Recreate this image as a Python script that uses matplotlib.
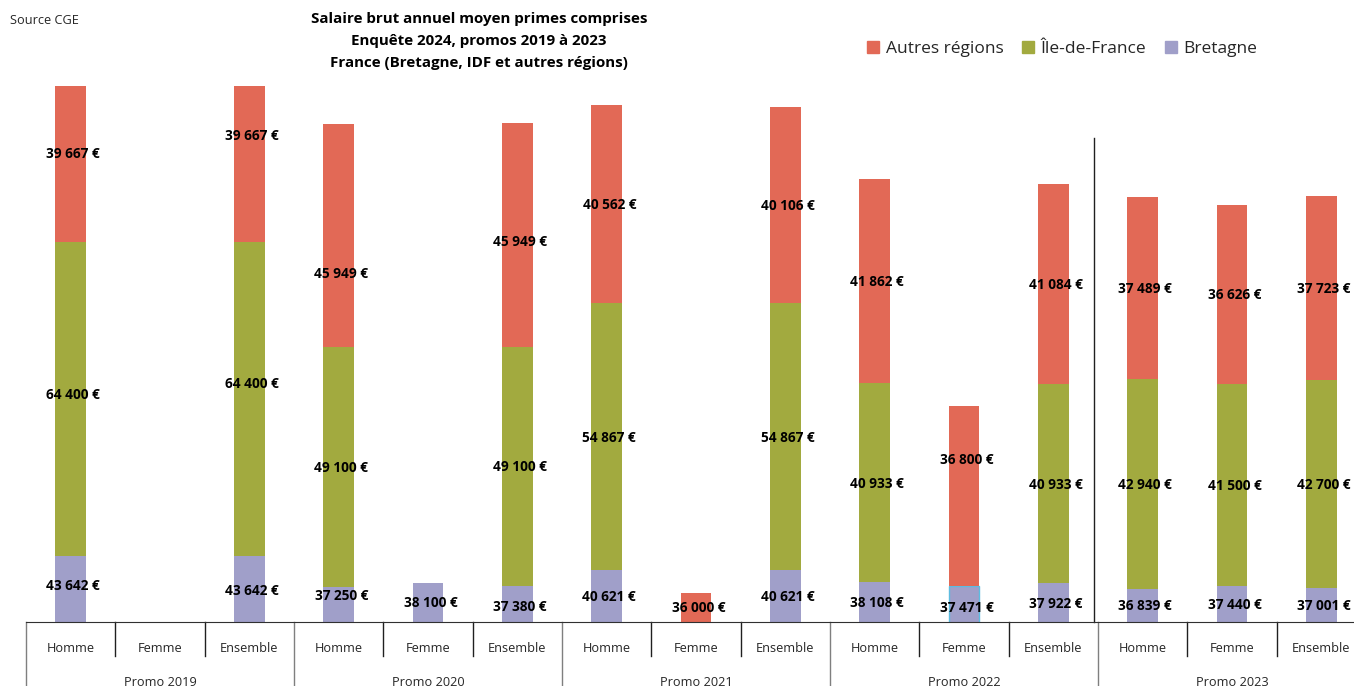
import numpy as np
import matplotlib
matplotlib.use("Agg")
import matplotlib.pyplot as plt
from matplotlib.lines import Line2D
import matplotlib.transforms as mtransforms

# ---------------- data ----------------
genders = ["Homme", "Femme", "Ensemble"]
promos = ["Promo 2019", "Promo 2020", "Promo 2021", "Promo 2022", "Promo 2023"]
categories = genders * len(promos)

bretagne = [43642, np.nan, 43642, 37250, 38100, 37380, 40621, np.nan, 40621,
            38108, 37471, 37922, 36839, 37440, 37001]
idf = [64400, np.nan, 64400, 49100, np.nan, 49100, 54867, np.nan, 54867,
       40933, np.nan, 40933, 42940, 41500, 42700]
autres = [39667, np.nan, 39667, 45949, np.nan, 45949, 40562, 36000, 40106,
          41862, 36800, 41084, 37489, 36626, 37723]

series_names = ["Bretagne", "Île-de-France", "Autres régions"]
series_vals = [bretagne, idf, autres]

# ---------------- style ----------------
colors = {"Bretagne": "#A09FC9", "Île-de-France": "#A2AA3F", "Autres régions": "#E26956"}
YMIN, YMAX = 30000, 140000
FONT = "Open Sans"
plt.rcParams["font.family"] = [FONT, "DejaVu Sans"]

# manual label nudges (pixels, positive = downward), as in the original layout
label_nudge = {
    ("Autres régions", 0): -11, ("Île-de-France", 0): -5, ("Bretagne", 0): -4,
    ("Autres régions", 2): -29, ("Île-de-France", 2): -16, ("Bretagne", 2): 1,
    ("Autres régions", 3): 38, ("Bretagne", 3): -9,
    ("Autres régions", 5): 6, ("Bretagne", 5): 2,
    ("Autres régions", 10): -37, ("Bretagne", 10): 3,
}

W, H = 1354, 686
fig = plt.figure(figsize=(W / 100, H / 100), dpi=100)
ax_left, ax_right = 26, 1366
ax_top, ax_bot = 86, 622
ax = fig.add_axes([ax_left / W, (H - ax_bot) / H, (ax_right - ax_left) / W, (ax_bot - ax_top) / H])

x = np.arange(len(categories))
bottom = np.zeros(len(categories))
bar_w = 0.34
for name, vals in zip(series_names, series_vals):
    v = np.array(vals, dtype=float)
    vz = np.nan_to_num(v)
    edge = ["none"] * len(v)
    if name == "Bretagne":
        edge[10] = "#5DBCE0"
    ax.bar(x, vz, bar_w, bottom=bottom, color=colors[name], edgecolor=edge, linewidth=1.0)
    for i, val in enumerate(v):
        if np.isnan(val):
            continue
        lo = max(bottom[i], YMIN)
        hi = min(bottom[i] + val, YMAX)
        yc = (lo + hi) / 2
        txt = f"{int(val):,}".replace(",", " ") + " €"
        dy = label_nudge.get((name, i), 0) + 1
        ax.annotate(txt, (x[i] + 0.03, yc), xytext=(0, -dy), textcoords="offset pixels",
                    ha="center", va="center", fontsize=9.8, fontweight="bold", color="black")
    bottom = bottom + vz

ax.set_xlim(-0.5, len(categories) - 0.5)
ax.set_ylim(YMIN, YMAX)
for s in ["top", "right", "left"]:
    ax.spines[s].set_visible(False)
ax.spines["bottom"].set_color("#303030")
ax.set_yticks([])
ax.set_xticks([])

# separator line before Promo 2023
trans = mtransforms.blended_transform_factory(ax.transData, ax.transAxes)
ax.plot([11.455, 11.455], [0, (ax_bot - 138) / (ax_bot - ax_top)], color="#202020",
        lw=1.0, transform=trans, clip_on=False)

# two-level category axis
ah = ax_bot - ax_top
for k in range(len(categories) + 1):
    xs = k - 0.5
    if k % 3 == 0:
        ax.plot([xs, xs], [0, -(H - ax_bot) / ah], color="#7F7F7F", lw=1.0,
                transform=trans, clip_on=False)
    else:
        ax.plot([xs, xs], [0, -(656 - ax_bot) / ah], color="#202020", lw=1.0,
                transform=trans, clip_on=False)
for i, c in enumerate(categories):
    ax.text(i, -(648 - ax_bot) / ah, c, transform=trans, ha="center", va="center",
            fontsize=9.2, color="#262626")
for j, p in enumerate(promos):
    ax.text(3 * j + 1, -(682 - ax_bot) / ah, p, transform=trans, ha="center", va="center",
            fontsize=9.2, color="#262626")

# titles
title_lines = ["Salaire brut annuel moyen primes comprises",
               "Enquête 2024, promos 2019 à 2023",
               "France (Bretagne, IDF et autres régions)"]
for k, t in enumerate(title_lines):
    fig.text(479 / W, 1 - (19 + 22 * k) / H, t, ha="center", va="center",
             fontsize=10.9, fontweight="bold", color="black")
fig.text(10 / W, 1 - 20 / H, "Source CGE", ha="left", va="center", fontsize=9.2, color="#262626")

# legend
handles = [Line2D([], [], marker="s", linestyle="none", markersize=9,
                  markerfacecolor=colors[n], markeredgecolor=colors[n])
           for n in ["Autres régions", "Île-de-France", "Bretagne"]]
fig.legend(handles, ["Autres régions", "Île-de-France", "Bretagne"], ncol=3,
           loc="center left", bbox_to_anchor=(850 / W, 1 - 49 / H), frameon=False,
           fontsize=12.5, handlelength=0.8, handletextpad=0.35, columnspacing=1.0,
           labelcolor="#262626")

fig.savefig("out.png", dpi=100)
